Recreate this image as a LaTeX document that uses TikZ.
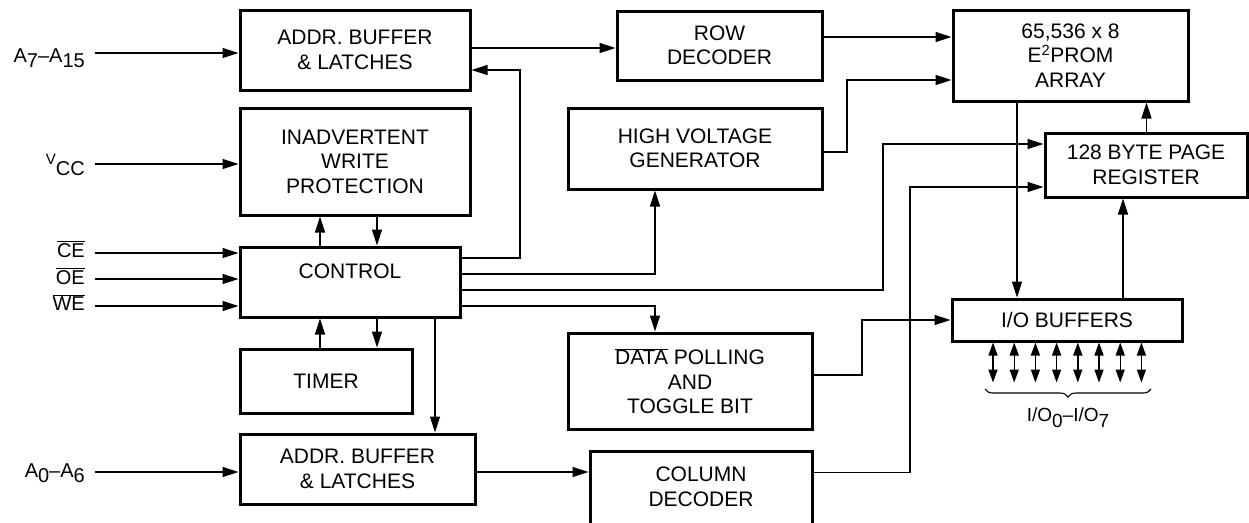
\documentclass[tikz,border=0pt]{standalone}
\usepackage{fontspec}
\setmainfont{Liberation Sans}
\usetikzlibrary{arrows.meta,decorations.pathreplacing}
\newcommand\lowr[1]{\raisebox{-5pt}{#1}}
\begin{document}
\begin{tikzpicture}[x=1pt,y=-1pt,
  box/.style={draw, line width=3pt, inner sep=0pt, align=center,
    font=\fontsize{21pt}{24.5pt}\selectfont},
  txt/.style={align=center, inner sep=0pt, font=\fontsize{21pt}{24.5pt}\selectfont},
  lbl/.style={inner sep=0pt, font=\fontsize{20pt}{22pt}\selectfont},
  arr/.style={line width=1.4pt, -{Triangle[length=16pt,width=10pt]}},
  darr/.style={line width=1.4pt, {Triangle[length=13pt,width=9pt]}-{Triangle[length=13pt,width=9pt]}},
  brc/.style={line width=1.1pt, decorate, decoration={brace, mirror, amplitude=8pt}},
]
\useasboundingbox (0,0) rectangle (1249,522);

% boxes
\node[box, minimum width=230pt, minimum height=80pt] (abt) at (355,50) {ADDR. BUFFER\\\& LATCHES};
\node[box, minimum width=230pt, minimum height=107pt] (iwp) at (355,161.5) {INADVERTENT\\WRITE\\PROTECTION};
\node[box, minimum width=220pt, minimum height=70pt, text height=15pt, text depth=23pt] (ctl) at (350,282) {CONTROL};
\node[box, minimum width=172pt, minimum height=64pt] (tmr) at (326,381) {TIMER};
\node[box, minimum width=235pt, minimum height=70pt] (abb) at (357.5,469) {ADDR. BUFFER\\\& LATCHES};
\node[box, minimum width=205pt, minimum height=69pt] (row) at (719.5,45.5) {ROW\\DECODER};
\node[box, minimum width=254pt, minimum height=81pt] (hvg) at (695,148.5) {HIGH VOLTAGE\\GENERATOR};
\node[box, minimum width=235pt, minimum height=91pt] (arr) at (1070.5,55.5) {65,536 x 8\\E\textsuperscript{2}PROM\\ARRAY};
\node[box, minimum width=202pt, minimum height=64pt] (pgr) at (1146,165) {128 BYTE PAGE\\REGISTER};
\node[box, minimum width=244pt, minimum height=96pt] (dpl) at (690,381) {$\overline{\mbox{DATA}}$ POLLING\\AND\\TOGGLE BIT};
\node[box, minimum width=222pt, minimum height=110pt, anchor=north] (col) at (701,450) {};
\node[txt] (colt) at (701,487) {COLUMN\\DECODER};
\node[box, minimum width=230pt, minimum height=42pt] (iob) at (1067,320) {I/O BUFFERS};

% input labels
\node[lbl, anchor=base east] (la7) at (85,62) {A\lowr{7}--A\lowr{15}};
\node[lbl, anchor=base east] (lvcc) at (85,175) {\raisebox{11pt}{\fontsize{15pt}{15pt}\selectfont V}CC};
\node[lbl, anchor=base east] (lce) at (85,257) {$\overline{\mbox{CE}}$};
\node[lbl, anchor=base east] (loe) at (85,284) {$\overline{\mbox{OE}}$};
\node[lbl, anchor=base east] (lwe) at (85,310) {$\overline{\mbox{WE}}$};
\node[lbl, anchor=base east] (la0) at (85,477) {A\lowr{0}--A\lowr{6}};

\coordinate (ia7) at (95,53);
\coordinate (ivcc) at (95,164);
\coordinate (ice) at (95,253);
\coordinate (ioe) at (95,279);
\coordinate (iwe) at (95,306);
\coordinate (ia0) at (95,472);

\draw[arr] (ia7) -- (ia7 -| abt.west);
\draw[arr] (ivcc) -- (ivcc -| iwp.west);
\draw[arr] (ice) -- (ice -| ctl.west);
\draw[arr] (ioe) -- (ioe -| ctl.west);
\draw[arr] (iwe) -- (iwe -| ctl.west);
\draw[arr] (ia0) -- (ia0 -| abb.west);

% control <-> protection / timer
\draw[arr] ([xshift=-30pt]ctl.north) -- ([xshift=-30pt]ctl.north |- iwp.south);
\draw[arr] ([xshift=27pt]ctl.north |- iwp.south) -- ([xshift=27pt]ctl.north);
\draw[arr] ([xshift=-30pt]ctl.south |- tmr.north) -- ([xshift=-30pt]ctl.south);
\draw[arr] ([xshift=27pt]ctl.south) -- ([xshift=27pt]ctl.south |- tmr.north);
\draw[arr] ([xshift=85pt]ctl.south) -- ([xshift=85pt]ctl.south |- abb.north);

% control outputs
\coordinate (b1) at (520,70);
\coordinate (b3) at (883,144);
\draw[arr] ([yshift=24pt]ctl.east) -| (b1) -- (b1 -| abt.east);
\draw[arr] ([yshift=8pt]ctl.east) -| ([xshift=-40pt]hvg.south);
\draw[arr] ([yshift=-8pt]ctl.east) -| (b3) -- (b3 -| pgr.west);
\draw[arr] ([yshift=-24pt]ctl.east) -| ([xshift=-35pt]dpl.north);

% address path
\draw[arr] ([yshift=2pt]abt.east) -- ([yshift=2pt]abt.east -| row.west);
\draw[arr] ([yshift=8.5pt]row.east) -- ([yshift=8.5pt]row.east -| arr.west);
\coordinate (b2) at (847,80);
\draw[arr] ([yshift=-3.5pt]hvg.east) -| (b2) -- (b2 -| arr.west);
\draw[arr] ([yshift=-3pt]abb.east) -- ([yshift=-3pt]abb.east -| col.west);
\coordinate (b4) at (910,187);
\draw[arr] ([yshift=34pt]col.east) -| (b4) -- (b4 -| pgr.west);
\coordinate (b5) at (862,320);
\draw[arr] ([yshift=6pt]dpl.east) -| (b5) -- (b5 -| iob.west);

% array / register / io
\draw[arr] ([xshift=-53.5pt]arr.south) -- ([xshift=-53.5pt]arr.south |- iob.north);
\draw[arr] ([xshift=0.5pt]pgr.north) -- ([xshift=0.5pt]pgr.north |- arr.south);
\draw[arr] ([xshift=56pt]iob.north) -- ([xshift=56pt]iob.north |- pgr.south);

\foreach \i in {0,...,7} {
  \draw[darr] ([xshift=-74pt+\i*21.2pt]iob.south) -- ++(0,40);
}
\coordinate (bl) at (985,389);
\coordinate (br) at (1151,389);
\draw[brc] (bl) -- (br);
\node[lbl, anchor=base, font=\fontsize{19pt}{20pt}\selectfont] (iol) at (1068,421) {I/O\raisebox{-6pt}{0}--I/O\raisebox{-6pt}{7}};
\end{tikzpicture}
\end{document}
